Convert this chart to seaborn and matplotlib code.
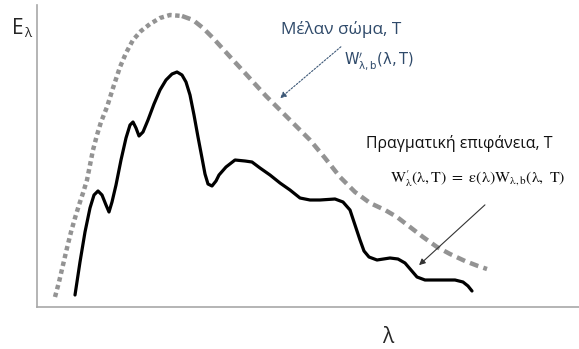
import numpy as np
import pandas as pd
import seaborn as sns
import matplotlib.pyplot as plt

# values (arbitrary units: lambda to the right, E upwards)
body_lam = [18, 22, 26, 30, 34, 38, 42, 46, 50, 53, 56, 60, 64, 70, 76, 83, 89, 96,
            104, 113, 123, 133, 145, 156, 166, 176, 186, 196, 208, 218, 229, 240,
            253, 263, 273, 288, 303, 318, 333, 348, 360, 373, 386, 400, 413, 428,
            441, 450]
body_E = [10, 25, 42, 59, 75, 89, 102, 114, 127, 142, 157, 172, 185, 200, 219, 240,
          254, 267, 276, 283, 289, 292, 291, 287, 279, 269, 258, 247, 234, 223, 211,
          200, 187, 177, 167, 149, 130, 115, 104, 97, 90, 80, 70, 60, 53, 46, 41, 38]
body_peak = 22

surf_lam = [38, 43, 48, 53, 57, 61, 65, 69, 72, 75, 79, 84, 89, 93, 96, 99, 102, 106,
            111, 117, 123, 129, 135, 140, 145, 149, 153, 157, 161, 165, 168, 171,
            175, 179, 182, 189, 198, 208, 215, 223, 233, 243, 253, 263, 273, 283,
            298, 306, 313, 318, 323, 327, 332, 340, 353, 361, 368, 374, 380, 388,
            403, 418, 426, 431, 435]
surf_E = [12, 45, 75, 99, 112, 116, 112, 102, 95, 105, 122, 147, 169, 182, 185, 179,
          171, 175, 187, 203, 217, 227, 233, 235, 232, 225, 212, 192, 170, 149, 133,
          123, 121, 126, 132, 140, 147, 146, 145, 139, 132, 124, 117, 109, 107, 107,
          108, 105, 97, 82, 67, 56, 50, 47, 49, 48, 44, 37, 30, 27, 27, 27, 25, 21,
          16]

W, H = 579, 349


def fx(px):
    return px / W


def fy(py):
    return 1 - py / H


sns.set_style("white")
plt.rcParams["font.family"] = ["Open Sans", "DejaVu Sans"]

fig = plt.figure(figsize=(5.79, 3.49), dpi=100)
ax = fig.add_axes([37 / W, 42 / H, 542 / W, 302 / H])

body = pd.DataFrame({"lam": body_lam, "E": body_E})
surf = pd.DataFrame({"lam": surf_lam, "E": surf_E})

# black body: dotted on the rising side, dashed on the falling side
rise = body.iloc[:body_peak + 1]
fall = body.iloc[body_peak:]
sns.lineplot(data=rise, x="lam", y="E", sort=False, estimator=None, ax=ax,
             color="#939393", linewidth=3.2, dashes=False)
ax.lines[-1].set_dashes((1.0, 0.8))
sns.lineplot(data=fall, x="lam", y="E", sort=False, estimator=None, ax=ax,
             color="#939393", linewidth=3.2, dashes=False)
ax.lines[-1].set_dashes((2.0, 1.2))

sns.lineplot(data=surf, x="lam", y="E", sort=False, estimator=None, ax=ax,
             color="black", linewidth=2.3)
for ln in ax.lines:
    ln.set_solid_capstyle("round")
    ln.set_solid_joinstyle("round")

ax.set_xlim(0, 542)
ax.set_ylim(0, 302)
ax.set_xticks([])
ax.set_yticks([])
ax.set_xlabel("")
ax.set_ylabel("")
for side in ["top", "right"]:
    ax.spines[side].set_visible(False)
for side in ["left", "bottom"]:
    ax.spines[side].set_color("#a8a8a8")
    ax.spines[side].set_linewidth(1.2)

blue = "#2f4a6a"
fig.text(fx(12), fy(34), "E", fontsize=15, va="baseline")
fig.text(fx(24), fy(37), "λ", fontsize=9.5, va="baseline")
fig.text(fx(388), fy(343), "λ", fontsize=15, ha="center", va="baseline")

fig.text(fx(281), fy(34), "Μέλαν σώμα, Τ", fontsize=12.3, color=blue,
         va="baseline")
fig.text(fx(344), fy(64), r"$\mathrm{W}^{\prime}_{\mathrm{\lambda,b}}(\mathrm{\lambda,T})$",
         fontsize=10.5, color=blue, va="baseline", math_fontfamily="dejavusans")
fig.text(fx(366), fy(148), "Πραγματική επιφάνεια, Τ", fontsize=11.4,
         color="#111111", va="baseline")
fig.text(fx(390), fy(183),
         r"$\mathrm{W}^{\prime}_{\mathrm{\lambda}}(\mathrm{\lambda,T})\ =\ \mathrm{\varepsilon(\lambda)}"
         r"\mathrm{W}_{\mathrm{\lambda,b}}(\mathrm{\lambda},\ \mathrm{T})$",
         fontsize=11.4, color="#111111", va="baseline", math_fontfamily="stix")

ax.annotate("", xy=(fx(278), fy(100)), xytext=(fx(343), fy(45)),
            xycoords="figure fraction", textcoords="figure fraction",
            arrowprops=dict(arrowstyle="-|>", color="#3d5877", lw=0.8,
                            linestyle=(0, (1.5, 1.5)), mutation_scale=9))
ax.annotate("", xy=(fx(417), fy(267)), xytext=(fx(487), fy(203)),
            xycoords="figure fraction", textcoords="figure fraction",
            arrowprops=dict(arrowstyle="-|>", color="#333333", lw=0.8,
                            mutation_scale=9))

fig.savefig("out.png", dpi=100)
